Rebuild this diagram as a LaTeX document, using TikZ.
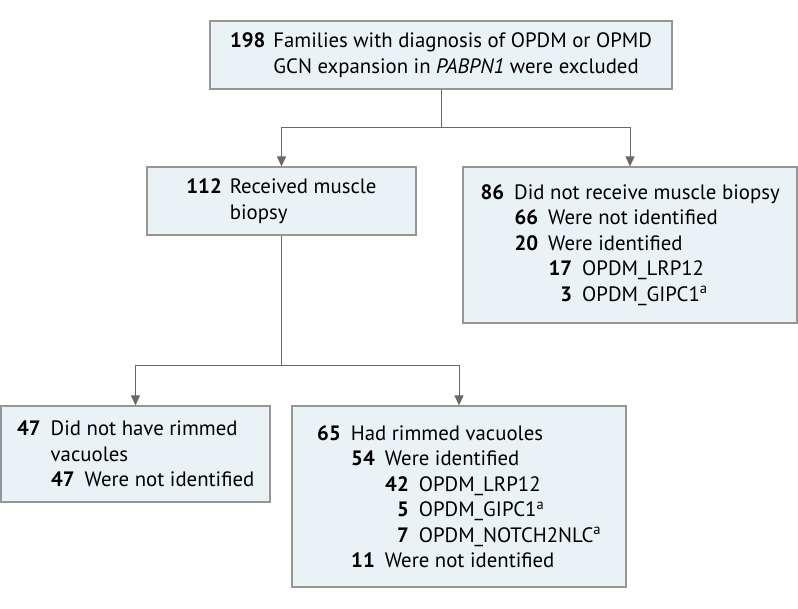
\documentclass[tikz,border=0pt]{standalone}
\usepackage{fontspec}
\setmainfont{PT Sans}
\usetikzlibrary{arrows.meta}
\definecolor{box-fill}{RGB}{233, 243, 245}
\definecolor{box-line}{RGB}{150, 150, 150}
\definecolor{link-gray}{RGB}{105, 105, 105}
\newcommand{\numline}[3]{\hspace*{#1}\makebox[24pt][r]{\bfseries #2}\hspace{10pt}#3}
\newcommand{\contline}[2]{\hspace*{#1}\hspace*{34pt}#2}
\newcommand{\headline}[2]{\textbf{#1}\hspace{8pt}#2}
\newcommand{\headcont}[2]{\hphantom{\textbf{#1}}\hspace*{8pt}#2}
\tikzset{
	flowbox/.style={draw=box-line, fill=box-fill, line width=1.2pt, align=left, inner sep=0pt,
		font=\fontsize{20.8}{25.5}\selectfont},
	link/.style={draw=link-gray, line width=1pt},
	arr/.style={link, -{Triangle[width=9pt,length=10pt]}}
}

\begin{document}
\begin{tikzpicture}[x=1pt, y=-1pt]
	\useasboundingbox (0,0) rectangle (798,608);
	
	\node [flowbox, minimum width=462pt, minimum height=68pt] (top) at (441,55) {
		\headline{198}{Families with diagnosis of OPDM or OPMD}\\
		\headcont{198}{GCN expansion in \textit{PABPN1} were excluded}};
	
	\node [flowbox, minimum width=269pt, minimum height=68pt] (biopsy) at (281.5,201) {
		\headline{112}{Received muscle}\\
		\headcont{112}{biopsy}};
	
	\node [flowbox, minimum width=334pt, minimum height=156pt] (nobiopsy) at (630,245) {
		\numline{0pt}{86}{Did not receive muscle biopsy}\\
		\numline{34pt}{66}{Were not identified}\\
		\numline{34pt}{20}{Were identified}\\
		\numline{68pt}{17}{OPDM\_LRP12}\\
		\numline{68pt}{3}{OPDM\_GIPC1\textsuperscript{a}}};
	
	\node [flowbox, minimum width=269pt, minimum height=96pt] (norimmed) at (135.5,454) {
		\numline{0pt}{47}{Did not have rimmed}\\
		\contline{0pt}{vacuoles}\\
		\numline{34pt}{47}{Were not identified}};
	
	\node [flowbox, minimum width=334pt, minimum height=181pt] (rimmed) at (459,496.5) {
		\numline{0pt}{65}{Had rimmed vacuoles}\\
		\numline{34pt}{54}{Were identified}\\
		\numline{68pt}{42}{OPDM\_LRP12}\\
		\numline{68pt}{5}{OPDM\_GIPC1\textsuperscript{a}}\\
		\numline{68pt}{7}{OPDM\_NOTCH2NLC\textsuperscript{a}}\\
		\numline{34pt}{11}{Were not identified}};
	
	\coordinate (split1) at (441,127);
	\coordinate (split2) at (281.5,365);
	
	\draw [link] (top) -- (split1);
	\draw [arr] (split1) -| (biopsy);
	\draw [arr] (split1) -| (nobiopsy);
	\draw [link] (biopsy) -- (split2);
	\draw [arr] (split2) -| (norimmed);
	\draw [arr] (split2) -| (rimmed);
\end{tikzpicture}
\end{document}
